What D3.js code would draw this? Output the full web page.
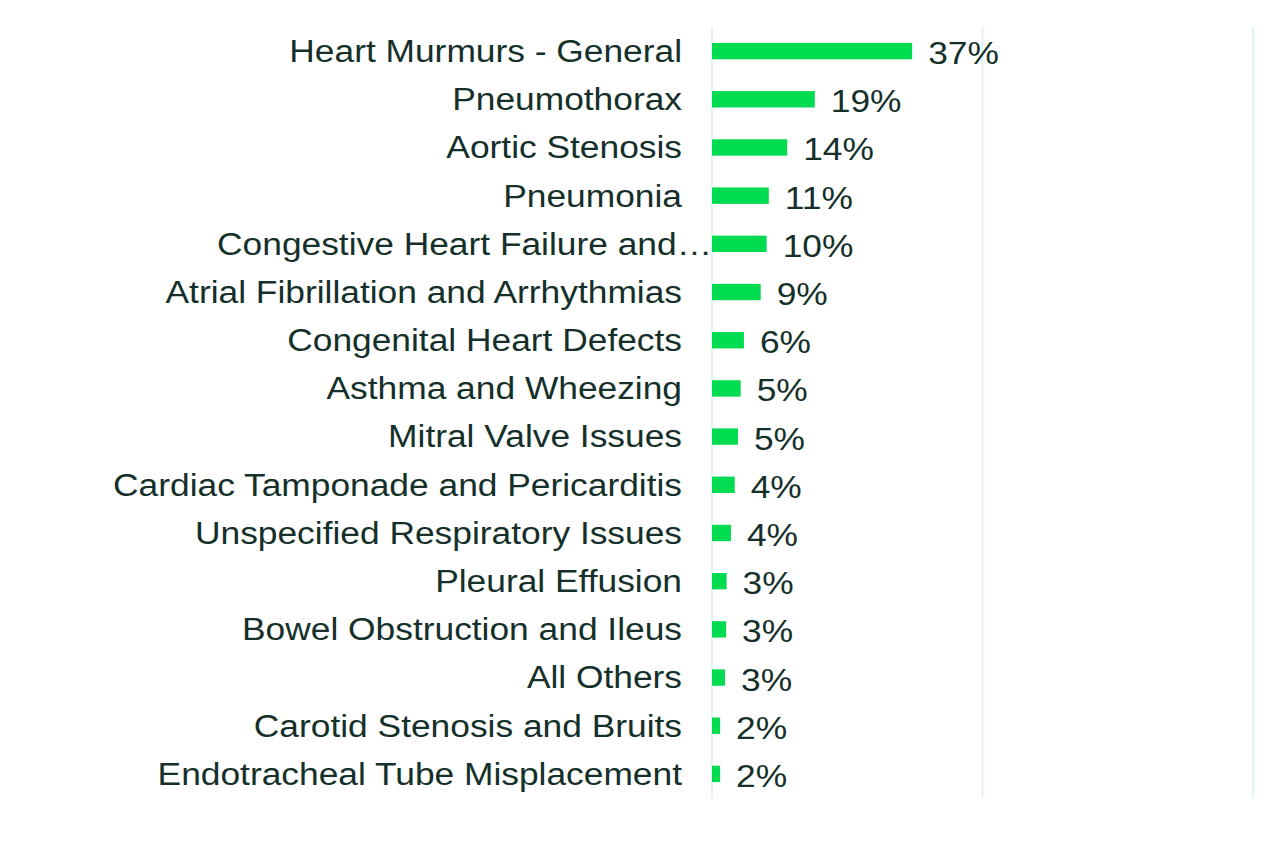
<!DOCTYPE html>
<html>
<head>
<meta charset="utf-8">
<script src="https://cdn.jsdelivr.net/npm/d3@7"></script>
<style>
  body { margin: 0; background: #fff; }
  text { font-family: "Liberation Sans", Arial, sans-serif; }
</style>
</head>
<body>
<svg id="chart" width="1280" height="863"></svg>
<script>
// data
const categories = [
  "Heart Murmurs - General", "Pneumothorax", "Aortic Stenosis", "Pneumonia",
  "Congestive Heart Failure and\u2026", "Atrial Fibrillation and Arrhythmias",
  "Congenital Heart Defects", "Asthma and Wheezing", "Mitral Valve Issues",
  "Cardiac Tamponade and Pericarditis", "Unspecified Respiratory Issues",
  "Pleural Effusion", "Bowel Obstruction and Ileus", "All Others",
  "Carotid Stenosis and Bruits", "Endotracheal Tube Misplacement"
];
const values = [37, 19, 13.9, 10.5, 10.1, 9, 5.9, 5.3, 4.8, 4.2, 3.5, 2.7, 2.6, 2.4, 1.5, 1.5];
const valueLabels = ["37%", "19%", "14%", "11%", "10%", "9%", "6%", "5%", "5%", "4%", "4%", "3%", "3%", "3%", "2%", "2%"];
const gridTicks = [0, 50, 100];

const svg = d3.select("#chart");
const stretch = 1.14; // the reference text is a bit wider than the font

const x = d3.scaleLinear().domain([0, 100]).range([712, 1253]);
const y = d3.scaleBand().domain(categories).range([27, 798]).paddingInner(0.66).paddingOuter(0.33);

// gridlines
svg.selectAll(".grid")
  .data(gridTicks)
  .enter().append("line")
  .attr("x1", d => x(d)).attr("x2", d => x(d))
  .attr("y1", 27).attr("y2", 798)
  .attr("stroke", "#d4f1f1")
  .attr("stroke-width", 1.5);

// bars
svg.selectAll(".bar")
  .data(categories)
  .enter().append("rect")
  .attr("x", x(0))
  .attr("y", d => y(d))
  .attr("width", (d, i) => x(values[i]) - x(0))
  .attr("height", y.bandwidth())
  .attr("fill", "#00dc50");

// category labels
svg.selectAll(".cat")
  .data(categories)
  .enter().append("text")
  .attr("transform", d => "translate(" + (d.endsWith("\u2026") ? 712 : 682) + "," + (y(d) + y.bandwidth() / 2) + ") scale(" + stretch + ",1)")
  .attr("dy", "0.35em")
  .attr("text-anchor", "end")
  .attr("font-size", 31)
  .attr("fill", "#15302a")
  .text(d => d);

// value labels
svg.selectAll(".val")
  .data(categories)
  .enter().append("text")
  .attr("transform", (d, i) => "translate(" + (x(values[i]) + 16) + "," + (y(d) + y.bandwidth() / 2) + ") scale(" + stretch + ",1)")
  .attr("dy", "0.42em")
  .attr("font-size", 31)
  .attr("fill", "#15302a")
  .text((d, i) => valueLabels[i]);
</script>
</body>
</html>
